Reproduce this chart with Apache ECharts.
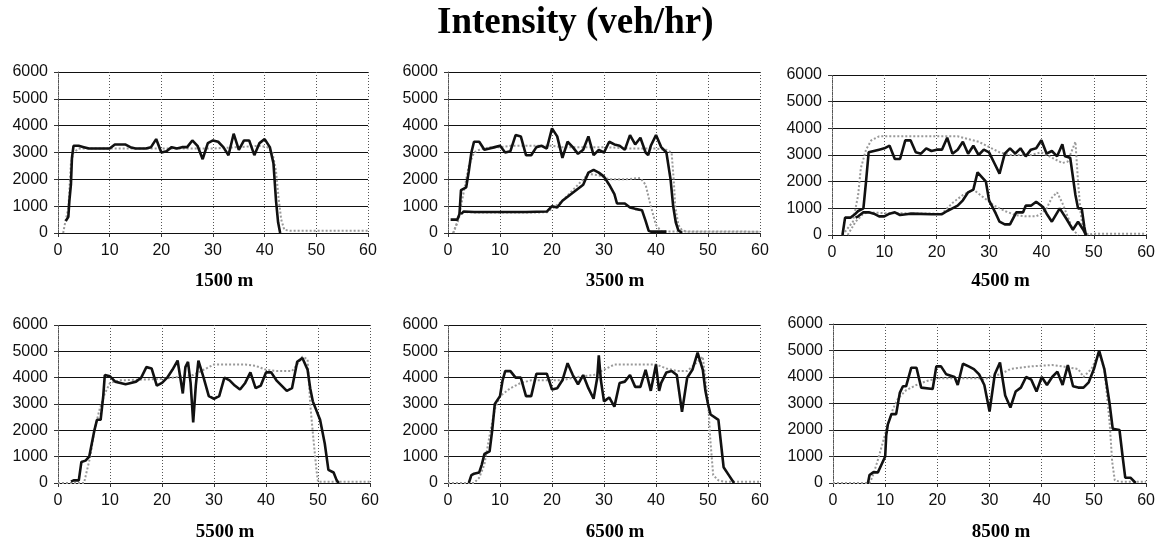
<!DOCTYPE html>
<html>
<head>
<meta charset="utf-8">
<script src="https://cdn.jsdelivr.net/npm/echarts@6/dist/echarts.min.js"></script>
<style>
html,body{margin:0;padding:0;background:#fff;}
#chart{width:1158px;height:540px;}
</style>
</head>
<body>
<div id="chart"></div>
<script>
// ---- Data (time in minutes, intensity in veh/hr) ----
var chartTitle = 'Intensity (veh/hr)';
var panelNames = ['1500 m', '3500 m', '4500 m', '5500 m', '6500 m', '8500 m'];
var xTicks = [0, 10, 20, 30, 40, 50, 60];
var yTicks = [0, 1000, 2000, 3000, 4000, 5000, 6000];

var meas1500 = [[1.5,450],[2,600],[2.2,1200],[2.5,1800],[2.7,2800],[3,3250],[4,3250],[5,3200],[6,3150],[8,3150],[10,3150],[11,3300],[12,3300],[13,3300],[14,3200],[15,3150],[17,3150],[18,3200],[19,3500],[20,3000],[21,3050],[22,3200],[23,3150],[24,3200],[25,3200],[26,3450],[27,3250],[28,2750],[29,3350],[30,3450],[31,3400],[32,3200],[33,2900],[34,3700],[35,3100],[36,3450],[37,3450],[38,2900],[39,3350],[40,3500],[41,3200],[41.7,2600],[42.2,1200],[42.6,400],[43,0]];
var sim1500 = [[1,0],[1.5,500],[2,900],[2.5,2600],[3,3000],[4,3150],[10,3150],[20,3150],[30,3150],[35,3200],[39,3250],[40.5,3200],[41.5,3000],[42.2,2300],[42.7,1300],[43.2,500],[43.8,120],[45,80],[60,80]];

var meas3500main = [[0.5,500],[1.8,500],[2.2,700],[2.5,1600],[3.5,1700],[4,2300],[4.5,3000],[5,3400],[6,3400],[7,3100],[8,3150],[9,3200],[10,3250],[11,3000],[12,3050],[13,3650],[14,3600],[15,2900],[16,2900],[17,3200],[18,3250],[19,3150],[20,3900],[21,3600],[22,2800],[23,3400],[24,3200],[25,2950],[26,3100],[27,3600],[28,2900],[29,3100],[30,3000],[31,3400],[32,3300],[33,3250],[34,3100],[35,3650],[36,3300],[37,3550],[38,3000],[38.5,2900],[39,3250],[40,3650],[41,3200],[42,3000],[42.8,2000],[43.3,1000],[43.8,400],[44.3,100],[45,0]];
var sim3500main = [[1,0],[2,500],[3,1500],[4,2500],[5,3000],[6,3100],[8,3200],[10,3200],[12,3250],[20,3250],[22,3200],[30,3200],[35,3150],[40,3150],[42,3100],[43,3000],[43.4,2000],[43.7,1000],[44.3,300],[45,100],[46,50],[60,50]];
var meas3500ramp = [[2.5,700],[3,800],[5,780],[10,780],[15,780],[19,800],[20,1000],[21,950],[22,1200],[24,1500],[26,1800],[27,2250],[28,2350],[29,2250],[30,2100],[31,1800],[32,1450],[32.5,1100],[34,1100],[35,950],[36,900],[37.3,850],[38,450],[38.6,80],[39,50],[42,50]];
var sim3500ramp = [[1,0],[2,500],[2.5,800],[4,770],[10,760],[19,770],[20,900],[22,1200],[25,1800],[27,2200],[29,2150],[31,2000],[34,2000],[37,2050],[38,1800],[39,1000],[40,300],[41,60],[60,50]];

var meas4500main = [[2,0],[2.5,650],[3.5,650],[4.5,800],[5,900],[6,1000],[6.5,2000],[7,3100],[8,3150],[9,3200],[10,3250],[11,3350],[12,2850],[13,2850],[14,3550],[15,3550],[16,3100],[17,3050],[18,3250],[19,3150],[20,3200],[21,3200],[22,3650],[23,3050],[24,3200],[25,3500],[26,3050],[27,3350],[28,3000],[29,3200],[30,3100],[31,2700],[32,2300],[33,3050],[34,3250],[35,3050],[36,3250],[37,2950],[38,3200],[39,3250],[40,3550],[41,3050],[42,3150],[43,2950],[44,3400],[44.5,2950],[45.5,2900],[46.5,1500],[47,1000],[47.7,1000],[48.2,300],[48.5,0]];
var sim4500main = [[2,0],[4,500],[5,1500],[5.5,2500],[6.5,3200],[7.5,3550],[9,3700],[15,3700],[22,3700],[24,3700],[26,3600],[28,3500],[30,3300],[32,3100],[34,3000],[38,3000],[40,3100],[42,2900],[44,2700],[45,2750],[46.5,3500],[47,2000],[47.5,800],[48,200],[49,0],[50,50],[60,50]];
var meas4500ramp = [[4.5,650],[5,700],[6,850],[7,850],[8,800],[9,700],[10,700],[11,800],[12,850],[13,750],[15,800],[19,780],[21,780],[22,900],[23,1000],[24,1100],[25,1300],[26,1600],[27,1700],[27.8,2350],[29.4,2000],[30,1300],[31.3,800],[32,500],[33,400],[34,400],[35.2,850],[36.5,850],[37,1100],[38,1100],[39,1250],[40.3,1050],[41,800],[42,500],[43.5,1000],[44.8,600],[46,200],[47,500],[48,200],[48.5,0]];
var sim4500ramp = [[3,0],[4.5,500],[6,800],[7,850],[10,820],[20,800],[21,800],[23,1200],[25,1500],[27,1700],[29,1400],[31,1100],[33,900],[35,750],[37,700],[39,700],[40,800],[41,1000],[42,1400],[43,1600],[44,1200],[45,700],[46,200],[47,0]];

var meas5500 = [[2.5,50],[3,100],[4,100],[4.5,800],[5.3,850],[6,1000],[7,2000],[7.5,2400],[8.2,2400],[8.7,3300],[9,4100],[10,4050],[11,3850],[12,3800],[13,3750],[14,3800],[15,3850],[16,4000],[17,4400],[18,4350],[19,3700],[20,3800],[21,4000],[22,4300],[23,4650],[24,3400],[24.5,4400],[25,4600],[25.5,3800],[26,2300],[26.5,3700],[27,4650],[28,4000],[29,3300],[30,3200],[31,3300],[32,4000],[33,3900],[34,3700],[35,3550],[36,3800],[37,4200],[38,3600],[39,3700],[40,4200],[41,4200],[42,3900],[43,3700],[44,3500],[45,3600],[46,4600],[47,4750],[48,4300],[48.5,3600],[49,3100],[50.4,2400],[51.3,1500],[52,500],[53,400],[53.6,100],[54,0]];
var sim5500 = [[0,0],[5,0],[6.2,1000],[7,2000],[8,2800],[9,3400],[10,3800],[12,3900],[20,3950],[22,4000],[26,4100],[28,4300],[30,4500],[36,4500],[38,4450],[40,4300],[42,4250],[45,4250],[46,4500],[47,4800],[48,4700],[48.5,3000],[49.2,1500],[49.7,500],[50,50],[60,50]];

var meas6500 = [[4,0],[4.5,300],[5,350],[6,400],[6.5,700],[7,1100],[8,1200],[8.5,2000],[9,3000],[10,3300],[10.5,3900],[11,4250],[12,4250],[13,4000],[14,4000],[15,3300],[16,3300],[17,4150],[18,4150],[19,4150],[20,3550],[21,3600],[22,3900],[23,4550],[24,4100],[25,3750],[26,4100],[27,3600],[28,3200],[28.7,4000],[29,4850],[29.4,3900],[30,3100],[31,3250],[32,2900],[33,3800],[34,3850],[35,4100],[36,3650],[37,3650],[38,4300],[39,3500],[40,4500],[40.6,3500],[41,3800],[42,4200],[43,4250],[44,4100],[45,2700],[46,4000],[47,4300],[48,4950],[49,4300],[49.5,3500],[50,3000],[50.5,2600],[52,2400],[52.5,1500],[53,600],[54,300],[55,0]];
var sim6500 = [[0,0],[5,0],[6,200],[7,700],[8,1800],[9,2800],[10,3300],[12,3600],[14,3800],[16,3900],[22,3900],[24,4000],[26,4050],[28,4100],[30,4300],[32,4500],[40,4500],[42,4350],[44,4250],[46,4250],[48,4600],[49,4800],[50,3100],[50.5,1500],[51,300],[52,100],[53,50],[60,50]];

var meas8500 = [[6.7,0],[7,300],[7.7,400],[8.6,400],[9.3,700],[10,1000],[10.2,1800],[10.5,2200],[11.2,2600],[12.1,2600],[12.8,3400],[13.4,3650],[14,3650],[15,4350],[16,4350],[16.9,3600],[17.2,3550],[19.1,3550],[19.8,4400],[20.7,4400],[21.7,4100],[23.3,4000],[23.9,3700],[24.9,4500],[26,4400],[27,4300],[28,4100],[29,3700],[30,2700],[31,4100],[32,4550],[33,3300],[34,2850],[35,3450],[36,3600],[37,4000],[38,3900],[39,3450],[40,4000],[41,3700],[42,4000],[43,4200],[44,3700],[45,4450],[46,3650],[47,3600],[48,3600],[49,3800],[50,4300],[51,5000],[52,4300],[53,3000],[53.6,2050],[54.9,2000],[55.5,1000],[56,200],[57,200],[58,0]];
var sim8500 = [[0,0],[7,0],[7.5,200],[8.5,800],[9.5,1500],[10.5,2200],[11.5,2800],[12.5,3200],[14,3500],[16,3700],[18,3850],[20,3950],[28,3950],[29,3900],[30,4000],[32,4100],[34,4300],[38,4400],[42,4450],[44,4400],[47,4300],[48,4000],[49.5,4300],[51,4900],[52,4300],[53,2300],[53.5,800],[54,100],[55,50],[60,50]];

// ---- Layout ----
var grids = [
  {left:58, top:72, width:310, height:161},
  {left:448, top:72, width:312, height:161},
  {left:832, top:75, width:315, height:160},
  {left:58, top:325, width:312, height:158},
  {left:448, top:325, width:312, height:158},
  {left:833, top:324, width:314, height:159}
];
var panelMeas = [[meas1500],[meas3500main, meas3500ramp],[meas4500main, meas4500ramp],[meas5500],[meas6500],[meas8500]];
var panelSim = [[sim1500],[sim3500main, sim3500ramp],[sim4500main, sim4500ramp],[sim5500],[sim6500],[sim8500]];

var tickFont = "'Liberation Sans', Arial, sans-serif";
var serif = "'Liberation Serif', 'DejaVu Serif', serif";

var xAxes = [], yAxes = [], series = [], titles = [];
titles.push({text: chartTitle, left: 432, top: 0,
  textStyle:{fontFamily: serif, fontWeight:'bold', fontSize:37, color:'#000'}});

grids.forEach(function(g, i){
  xAxes.push({
    gridIndex:i, type:'value', min:xTicks[0], max:xTicks[xTicks.length-1], interval:10,
    axisLine:{show:true, onZero:false, lineStyle:{color:'#111', width:1}},
    axisTick:{show:true, length:4, lineStyle:{color:'#333'}},
    axisLabel:{margin:10, color:'#111', fontSize:16, fontFamily:tickFont, showMinLabel:true, showMaxLabel:true,
      formatter:function(v){ return String(v); }},
    splitLine:{show:true, lineStyle:{color:'#555', type:[1,2], width:1}}
  });
  yAxes.push({
    gridIndex:i, type:'value', min:yTicks[0], max:yTicks[yTicks.length-1], interval:1000,
    axisLine:{show:true, lineStyle:{color:'#555', width:1, type:[1,1]}},
    axisTick:{show:true, length:4, lineStyle:{color:'#333'}},
    axisLabel:{margin:10, color:'#111', fontSize:16, fontFamily:tickFont,
      formatter:function(v){ return String(v); }},
    splitLine:{show:true, lineStyle:{color:'#111', width:1.2}}
  });
  panelSim[i].forEach(function(d){
    series.push({type:'line', xAxisIndex:i, yAxisIndex:i, data:d, symbol:'none', silent:true, animation:false,
      lineStyle:{color:'#999', width:2, type:[2,2]}, z:3});
  });
  panelMeas[i].forEach(function(d){
    series.push({type:'line', xAxisIndex:i, yAxisIndex:i, data:d, symbol:'none', silent:true, animation:false,
      lineStyle:{color:'#111', width:2.6}, z:4});
  });
  var cx = g.left + g.width/2 + 6;
  var ty = (i < 3) ? 267 : 518;
  titles.push({text: panelNames[i], left: cx, top: ty, textAlign:'center',
    textStyle:{fontFamily: serif, fontWeight:'bold', fontSize:19, color:'#000'}});
});

var chart = echarts.init(document.getElementById('chart'), null, {renderer:'canvas'});
chart.setOption({
  backgroundColor:'#ffffff',
  animation:false,
  title: titles,
  grid: grids,
  xAxis: xAxes,
  yAxis: yAxes,
  series: series
});
</script>
</body>
</html>
